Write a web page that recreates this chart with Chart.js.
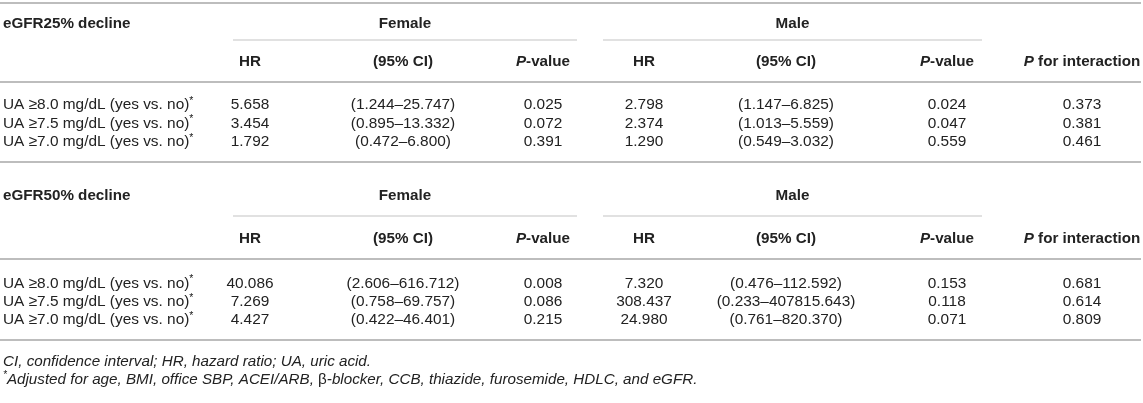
<!DOCTYPE html>
<html>
<head>
<meta charset="utf-8">
<script src="https://cdn.jsdelivr.net/npm/chart.js@4.4.1/dist/chart.umd.min.js"></script>
<style>
  html, body { margin: 0; padding: 0; background: #ffffff; }
  #wrap { position: relative; width: 1143px; height: 403px; }
</style>
</head>
<body>
<div id="wrap"><canvas id="c"></canvas></div>
<script>
// ---------------- DATA ----------------
const outcomes = ['eGFR25% decline', 'eGFR50% decline'];
const groups = ['Female', 'Male'];
const subHeaders = ['HR', '(95% CI)', 'P-value'];
const rowLabels = [
  'UA \u22658.0 mg/dL (yes vs. no)',
  'UA \u22657.5 mg/dL (yes vs. no)',
  'UA \u22657.0 mg/dL (yes vs. no)'
];

// eGFR25% decline
const female25HR   = [5.658, 3.454, 1.792];
const female25Low  = [1.244, 0.895, 0.472];
const female25High = [25.747, 13.332, 6.800];
const female25P    = [0.025, 0.072, 0.391];
const male25HR     = [2.798, 2.374, 1.290];
const male25Low    = [1.147, 1.013, 0.549];
const male25High   = [6.825, 5.559, 3.032];
const male25P      = [0.024, 0.047, 0.559];
const inter25P     = [0.373, 0.381, 0.461];

// eGFR50% decline
const female50HR   = [40.086, 7.269, 4.427];
const female50Low  = [2.606, 0.758, 0.422];
const female50High = [616.712, 69.757, 46.401];
const female50P    = [0.008, 0.086, 0.215];
const male50HR     = [7.320, 308.437, 24.980];
const male50Low    = [0.476, 0.233, 0.761];
const male50High   = [112.592, 407815.643, 820.370];
const male50P      = [0.153, 0.118, 0.071];
const inter50P     = [0.681, 0.614, 0.809];

const footnote1 = 'CI, confidence interval; HR, hazard ratio; UA, uric acid.';
const footnote2a = 'Adjusted for age, BMI, office SBP, ACEI/ARB, ';
const footnote2b = '\u03b2';
const footnote2c = '-blocker, CCB, thiazide, furosemide, HDLC, and eGFR.';

// ---------------- LAYOUT (scale units) ----------------
const colLabelX = 3;
const colX = [250, 403, 543, 644, 786, 947, 1082];   // HR, CI, P (F) ; HR, CI, P (M) ; interaction
const groupSpan = [[233, 577], [603, 982]];
const blockLayout = [
  { title: 23,  ul: 40,  h2: 60.5, rule: 82,  rows: [104, 122.5, 141], bottom: 162 },
  { title: 195, ul: 216, h2: 238,  rule: 259, rows: [282.5, 301, 319], bottom: 340 }
];
const topRuleY = 3;
const footY = [360.5, 378.5];
const FULL = [0, 1141];

const blocks = [
  { f: [female25HR, female25Low, female25High, female25P], m: [male25HR, male25Low, male25High, male25P], i: inter25P },
  { f: [female50HR, female50Low, female50High, female50P], m: [male50HR, male50Low, male50High, male50P], i: inter50P }
];

// ---------------- RULE DATASETS ----------------
const ruleColor = '#bdbdbd';
const rules = [];
function rule(x0, x1, y, w, c) {
  rules.push({
    type: 'line',
    data: [{ x: x0, y: y }, { x: x1, y: y }],
    borderColor: c || ruleColor, borderWidth: w, pointRadius: 0, fill: false, tension: 0
  });
}
rule(FULL[0], FULL[1], topRuleY, 2);
blockLayout.forEach((L, bi) => {
  groupSpan.forEach(s => rule(s[0], s[1], L.ul, 1.2, '#c4c4c4'));
  rule(FULL[0], FULL[1], L.rule, 2);
  rule(FULL[0], FULL[1], L.bottom, 2);
});

// ---------------- TEXT PLUGIN ----------------
const FONT = '"Liberation Sans", Arial, Helvetica, sans-serif';
const FS = 15.4;
const HFS = 15.2;
const NFS = 15.2;
const TXT = '#222222';
const DY = 1;
function fnt(bold, italic, size) {
  return (italic ? 'italic ' : '') + (bold ? 'bold ' : '') + size + 'px ' + FONT;
}
function runs(ctx, parts, x, y, align) {
  let total = 0;
  parts.forEach(p => { ctx.font = fnt(p.b, p.i, p.s || FS); p.w = ctx.measureText(p.t).width; total += p.w; });
  let cx = align === 'center' ? x - total / 2 : x;
  parts.forEach(p => {
    ctx.font = fnt(p.b, p.i, p.s || FS);
    ctx.fillText(p.t, cx, y + DY + (p.sup ? -4 : 0));
    cx += p.w;
  });
}
const f3 = v => v.toFixed(3);

const tablePlugin = {
  id: 'tableText',
  afterDatasetsDraw(chart) {
    const ctx = chart.ctx;
    const sx = chart.scales.x, sy = chart.scales.y;
    const X = v => sx.getPixelForValue(v);
    const Y = v => sy.getPixelForValue(v);
    ctx.save();
    ctx.fillStyle = TXT;
    ctx.textBaseline = 'middle';
    ctx.textAlign = 'left';

    blocks.forEach((b, bi) => {
      const L = blockLayout[bi];
      runs(ctx, [{ t: outcomes[bi], b: true, s: HFS }], X(colLabelX), Y(L.title), 'left');
      groups.forEach((g, gi) => {
        const s = groupSpan[gi];
        runs(ctx, [{ t: g, b: true, s: HFS }], X((s[0] + s[1]) / 2), Y(L.title), 'center');
      });
      [0, 3].forEach(base => {
        runs(ctx, [{ t: subHeaders[0], b: true, s: HFS }], X(colX[base]), Y(L.h2), 'center');
        runs(ctx, [{ t: subHeaders[1], b: true, s: HFS }], X(colX[base + 1]), Y(L.h2), 'center');
        runs(ctx, [{ t: 'P', b: true, i: true, s: HFS }, { t: '-value', b: true, s: HFS }], X(colX[base + 2]), Y(L.h2), 'center');
      });
      runs(ctx, [{ t: 'P', b: true, i: true, s: HFS }, { t: ' for interaction', b: true, s: HFS }], X(colX[6]), Y(L.h2), 'center');
      rowLabels.forEach((lab, ri) => {
        const y = Y(L.rows[ri]);
        runs(ctx, [{ t: lab }, { t: '*', s: 10.5, sup: true }], X(colLabelX), y, 'left');
        [b.f, b.m].forEach((g, gi) => {
          const base = gi * 3;
          runs(ctx, [{ t: f3(g[0][ri]) }], X(colX[base]), y, 'center');
          runs(ctx, [{ t: '(' + f3(g[1][ri]) + '\u2013' + f3(g[2][ri]) + ')' }], X(colX[base + 1]), y, 'center');
          runs(ctx, [{ t: f3(g[3][ri]) }], X(colX[base + 2]), y, 'center');
        });
        runs(ctx, [{ t: f3(b.i[ri]) }], X(colX[6]), y, 'center');
      });
    });

    runs(ctx, [{ t: footnote1, i: true, s: NFS }], X(colLabelX), Y(footY[0]), 'left');
    runs(ctx, [{ t: '*', i: true, s: 10, sup: true }, { t: footnote2a, i: true, s: NFS },
               { t: footnote2b, s: NFS }, { t: footnote2c, i: true, s: NFS }], X(colLabelX), Y(footY[1]), 'left');
    ctx.restore();
  }
};

new Chart(document.getElementById('c'), {
  type: 'scatter',
  data: { datasets: rules },
  options: {
    responsive: true,
    maintainAspectRatio: false,
    animation: false,
    events: [],
    layout: { padding: 0 },
    plugins: { legend: { display: false }, tooltip: { enabled: false }, title: { display: false } },
    scales: {
      x: { type: 'linear', min: 0, max: 1143, display: false },
      y: { type: 'linear', min: 0, max: 403, reverse: true, display: false }
    }
  },
  plugins: [tablePlugin]
});
</script>
</body>
</html>
